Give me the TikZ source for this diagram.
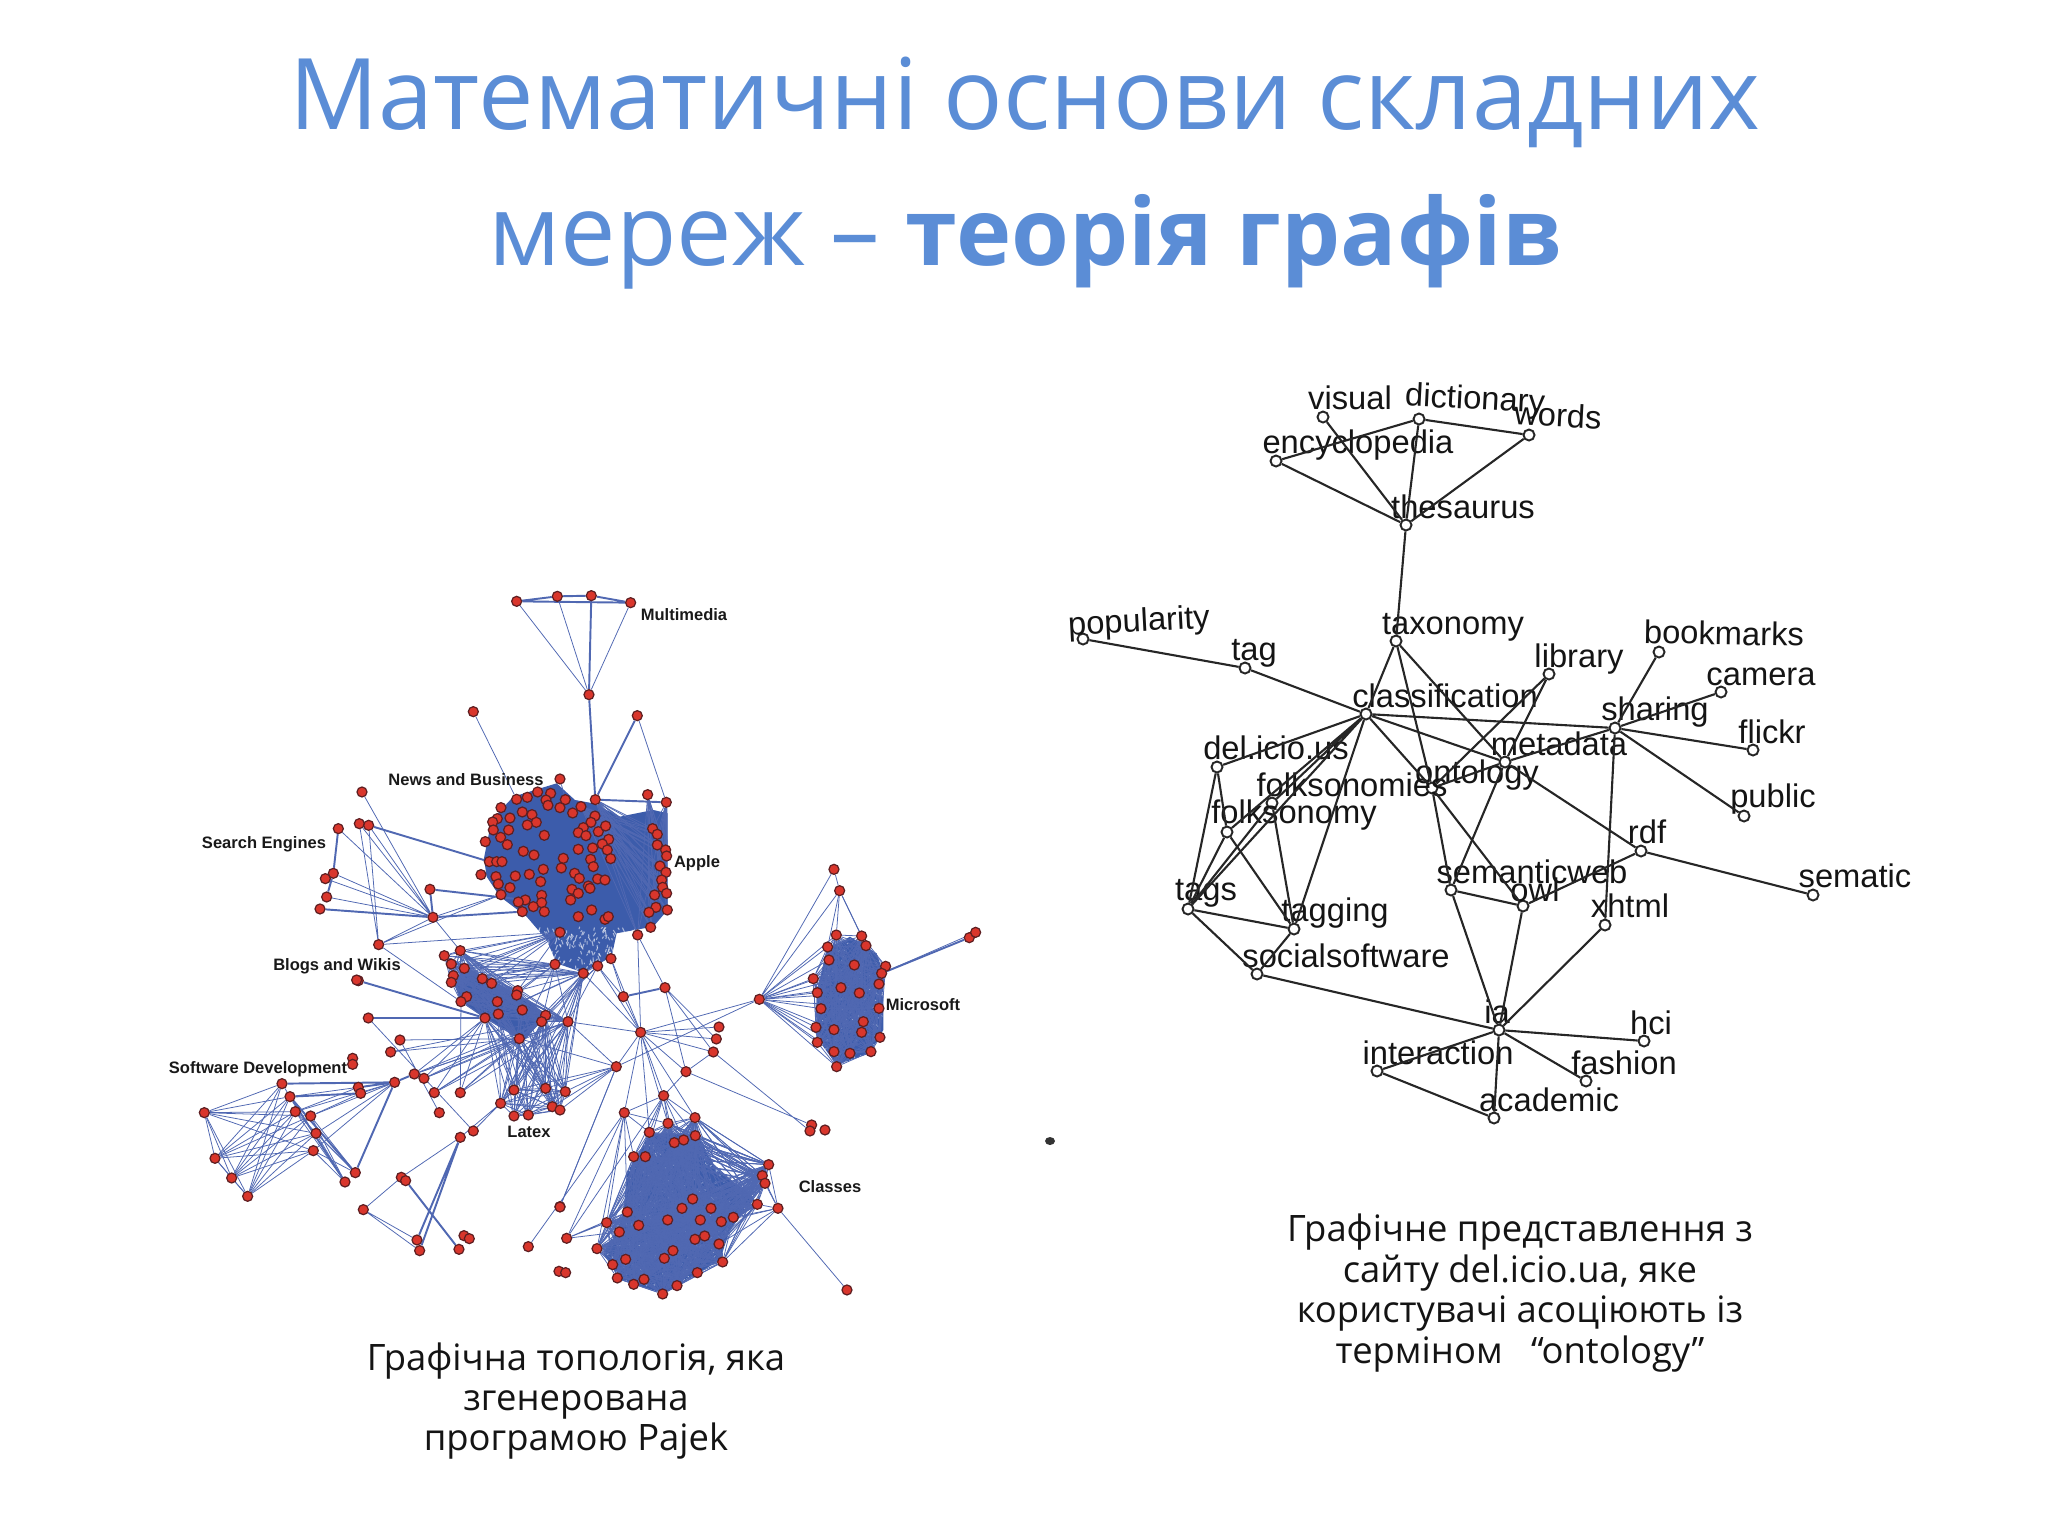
\documentclass[tikz,border=0pt]{standalone}
\usepackage{fontspec}
\setmainfont{Open Sans}
\newfontfamily\plotfont{Liberation Sans}
\usetikzlibrary{backgrounds}
\definecolor{titleblue}{HTML}{5B8DD6}
\definecolor{netblue}{HTML}{5068B2}
\definecolor{coreblue}{HTML}{3C5CAB}
\definecolor{dotred}{HTML}{D9362C}
\definecolor{dotedge}{HTML}{5E1F22}
\tikzset{
	termnode/.style={circle,draw=black!85,fill=white,line width=.55pt,inner sep=0pt,minimum size=.11cm},
	termlabel/.style={font=\plotfont\fontsize{9.3pt}{11pt}\selectfont,text=black!92,inner sep=0pt},
	termline/.style={draw=black!85,line width=.6pt},
	hostdot/.style={circle,draw=dotedge,fill=dotred,line width=.35pt,inner sep=0pt,minimum size=.1cm},
	netline/.style={draw=netblue,line width=.22pt},
	netthick/.style={draw=netblue,line width=.55pt},
	clusterfill/.style={fill=coreblue,draw=none},
	speckle/.style={draw=white,opacity=.55,line width=.3pt},
	clusterlabel/.style={font=\plotfont\bfseries\fontsize{4.7pt}{6pt}\selectfont,text=black!90,inner sep=0pt},
	caption/.style={align=center,font=\fontsize{10.35pt}{11.5pt}\selectfont,text=black!92,inner sep=0pt},
	cropa/.style={shift={(300,580)},scale=.3333},
	cropb/.style={shift={(160,940)},scale=.3333},
	cropc/.style={shift={(540,840)},scale=.3333}
}
\newcommand{\meshnet}[2]{\foreach \i in {1,...,#2}{\foreach \j in {1,...,#2}{\ifnum\i<\j \draw[netline] (#1\i) -- (#1\j);\fi}}}
\begin{document}
\begin{tikzpicture}[x=.01cm,y=-.01cm]
	\useasboundingbox (0,0) rectangle (2048,1536);
	\node[font=\fontsize{28.1pt}{30pt}\selectfont,text=titleblue,inner sep=0pt,anchor=base] (titleone) at (1025,129) {Математичні основи складних};
	\node[font=\fontsize{28.1pt}{30pt}\selectfont,text=titleblue,inner sep=0pt,anchor=base] (titletwo) at (1025,265) {мереж -- \textbf{\fontsize{26.6pt}{30pt}\selectfont теорія графів}};
	\node[caption] (capleft) at (576,1401) {Графічна топологія, яка\\згенерована\\програмою Pajek};
	\node[caption] (capright) at (1520,1293) {Графічне представлення з\\сайту del.icio.ua, яке\\користувачі асоціюють із\\терміном~~~“ontology”};
	\fill[black!80] (1050,1141) ellipse (5 and 4);
	% term graph
	\node[termnode] (visual) at (1323,417) {};
	\node[termnode] (dictionary) at (1419,419) {};
	\node[termnode] (words) at (1529,435) {};
	\node[termnode] (encyclopedia) at (1276,461) {};
	\node[termnode] (thesaurus) at (1406,525) {};
	\node[termnode] (taxonomy) at (1396,641) {};
	\node[termnode] (popularity) at (1083,639) {};
	\node[termnode] (tag) at (1245,668) {};
	\node[termnode] (classification) at (1366,714) {};
	\node[termnode] (library) at (1549,674) {};
	\node[termnode] (bookmarks) at (1659,652) {};
	\node[termnode] (camera) at (1721,692) {};
	\node[termnode] (sharing) at (1615,728) {};
	\node[termnode] (flickr) at (1753,750) {};
	\node[termnode] (public) at (1744,816) {};
	\node[termnode] (metadata) at (1505,762) {};
	\node[termnode] (rdf) at (1641,851) {};
	\node[termnode] (sematic) at (1813,895) {};
	\node[termnode] (owl) at (1523,906) {};
	\node[termnode] (xhtml) at (1605,925) {};
	\node[termnode] (delicious) at (1217,767) {};
	\node[termnode] (folksonomies) at (1272,803) {};
	\node[termnode] (folksonomy) at (1227,832) {};
	\node[termnode] (ontology) at (1432,788) {};
	\node[termnode] (tags) at (1188,909) {};
	\node[termnode] (tagging) at (1294,929) {};
	\node[termnode] (socialsoftware) at (1257,974) {};
	\node[termnode] (semanticweb) at (1451,890) {};
	\node[termnode] (ia) at (1499,1030) {};
	\node[termnode] (interaction) at (1377,1071) {};
	\node[termnode] (academic) at (1494,1118) {};
	\node[termnode] (fashion) at (1586,1081) {};
	\node[termnode] (hci) at (1644,1041) {};
	\node[termlabel] (visualtext) at (1350,398) {visual};
	\node[termlabel,rotate=-3] (dictionarytext) at (1475,401) {dictionary};
	\node[termlabel,rotate=-3] (wordstext) at (1558,415) {words};
	\node[termlabel] (encyclopediatext) at (1358,445) {encyclopedia};
	\node[termlabel] (thesaurustext) at (1463,507) {thesaurus};
	\node[termlabel,rotate=3] (popularitytext) at (1139,623) {popularity};
	\node[termlabel] (tagtext) at (1254,653) {tag};
	\node[termlabel] (taxonomytext) at (1453,627) {taxonomy};
	\node[termlabel] (classificationtext) at (1445,696) {classification};
	\node[termlabel] (librarytext) at (1579,659) {library};
	\node[termlabel,rotate=-1] (bookmarkstext) at (1724,633) {bookmarks};
	\node[termlabel] (cameratext) at (1761,677) {camera};
	\node[termlabel] (sharingtext) at (1655,712) {sharing};
	\node[termlabel] (flickrtext) at (1772,732) {flickr};
	\node[termlabel] (publictext) at (1773,799) {public};
	\node[termlabel] (metadatatext) at (1559,744) {metadata};
	\node[termlabel] (rdftext) at (1647,832) {rdf};
	\node[termlabel] (sematictext) at (1855,876) {sematic};
	\node[termlabel] (xhtmltext) at (1630,906) {xhtml};
	\node[termlabel] (owltext) at (1535,890) {owl};
	\node[termlabel] (semanticwebtext) at (1532,872) {semanticweb};
	\node[termlabel] (delicioustext) at (1276,748) {del.icio.us};
	\node[termlabel] (folksonomiestext) at (1352,785) {folksonomies};
	\node[termlabel] (folksonomytext) at (1294,815) {folksonomy};
	\node[termlabel] (ontologytext) at (1477,775) {ontology};
	\node[termlabel] (tagstext) at (1206,893) {tags};
	\node[termlabel] (taggingtext) at (1335,913) {tagging};
	\node[termlabel] (socialsoftwaretext) at (1346,956) {socialsoftware};
	\node[termlabel] (iatext) at (1497,1012) {ia};
	\node[termlabel] (interactiontext) at (1438,1053) {interaction};
	\node[termlabel] (hcitext) at (1651,1023) {hci};
	\node[termlabel] (fashiontext) at (1624,1063) {fashion};
	\node[termlabel] (academictext) at (1549,1100) {academic};
	\draw[termline] (visual) -- (thesaurus) (dictionary) -- (thesaurus) (dictionary) -- (words) (dictionary) -- (encyclopedia);
	\draw[termline] (encyclopedia) -- (thesaurus) (words) -- (thesaurus) (thesaurus) -- (taxonomy) (popularity) -- (tag);
	\draw[termline] (tag) -- (classification) (taxonomy) -- (classification) (taxonomy) -- (ontology) (taxonomy) -- (metadata);
	\draw[termline] (classification) -- (sharing) (classification) -- (metadata) (classification) -- (ontology) (classification) -- (delicious);
	\draw[termline] (classification) -- (folksonomies) (classification) -- (folksonomy) (classification) -- (tags) (classification) -- (tagging);
	\draw[termline] (library) -- (ontology) (library) -- (metadata) (bookmarks) -- (sharing) (camera) -- (sharing);
	\draw[termline] (flickr) -- (sharing) (public) -- (sharing) (metadata) -- (sharing) (sharing) -- (xhtml);
	\draw[termline] (metadata) -- (rdf) (rdf) -- (owl) (rdf) -- (sematic) (metadata) -- (semanticweb);
	\draw[termline] (ontology) -- (metadata) (ontology) -- (semanticweb) (ontology) -- (owl) (semanticweb) -- (owl);
	\draw[termline] (semanticweb) -- (ia) (owl) -- (ia) (xhtml) -- (ia) (ia) -- (socialsoftware);
	\draw[termline] (ia) -- (interaction) (ia) -- (academic) (ia) -- (fashion) (ia) -- (hci) (interaction) -- (academic);
	\draw[termline] (delicious) -- (tags) (delicious) -- (folksonomy) (folksonomies) -- (tags) (folksonomies) -- (tagging);
	\draw[termline] (folksonomy) -- (tags) (folksonomy) -- (tagging) (tags) -- (tagging) (tags) -- (socialsoftware) (tagging) -- (socialsoftware);
	% host graph, upper part
	\begin{scope}[cropa]
		\node[hostdot] (mma) at (650,64) {};
		\node[hostdot] (mmb) at (772,49) {};
		\node[hostdot] (mmc) at (874,47) {};
		\node[hostdot] (mmd) at (992,68) {};
		\node[hostdot] (mmhub) at (867,344) {};
		\node[hostdot] (newsout) at (520,395) {};
		\node[hostdot] (appleout) at (1012,407) {};
		\node[hostdot] (newstop) at (780,597) {};
		\node[hostdot] (appletop) at (886,659) {};
		\node[hostdot] (appleleft) at (650,658) {};
		\node[hostdot] (applewest) at (568,845) {};
		\node[hostdot] (applewesta) at (603,944) {};
		\node[hostdot] (appleeast) at (1099,667) {};
		\node[hostdot] (appleeasta) at (1043,644) {};
		\node[hostdot] (applelow) at (780,1057) {};
		\node[hostdot] (applesa) at (765,1153) {};
		\node[hostdot] (applesb) at (850,1180) {};
		\node[hostdot] (applesc) at (893,1158) {};
		\node[hostdot] (applesd) at (933,1136) {};
		\foreach \x/\y [count=\i] in {682/652,713/636,752/640,738/660,744/676,796/659,780/683,843/680,818/699,603/683,667/696,696/704,709/727,682/735,630/714,592/716,578/726,580/750,626/750,602/772,622/794,556/785,733/766,885/708,873/727,850/743,835/758,858/767,895/755,917/738,926/778,907/792,922/810,878/804,835/808,872/838,932/836,880/860,670/814,702/825,790/835,784/864,590/845,606/845,543/884,730/868,688/883,646/888,722/905,588/890,595/912,630/923,824/880,838/895,865/918,893/897,915/900,816/928,835/940,870/925,812/960,725/946,725/968,676/960,655/966,700/980,733/995,667/995,875/990,835/1010,915/1018,925/1010}
			\node[hostdot] (apple\i) at (\x,\y) {};
		\foreach \x/\y [count=\i] in {1058/746,1072/763,1072/795,1097/810,1100/828,1080/858,1098/877,1085/900,1088/922,1064/945,1100/940,1068/982,1047/997,1102/990,1052/1042,1013/1065}
			\node[hostdot] (rim\i) at (\x,\y) {};
		\node[hostdot] (srcha) at (186,636) {};
		\node[hostdot] (srchb) at (178,731) {};
		\node[hostdot] (srchc) at (206,736) {};
		\node[hostdot] (srchd) at (115,746) {};
		\node[hostdot] (srche) at (100,880) {};
		\node[hostdot] (srchf) at (76,896) {};
		\node[hostdot] (srchg) at (80,951) {};
		\node[hostdot] (srchh) at (60,987) {};
		\node[hostdot] (srchi) at (390,928) {};
		\node[hostdot] (srchhub) at (399,1012) {};
		\node[hostdot] (srchlow) at (236,1094) {};
	\end{scope}
	% host graph, lower left part
	\begin{scope}[cropb]
		\foreach \x/\y [count=\i] in {901/32,853/47,874/72,913/85,880/107,874/127,967/116,995/130,1073/152,1070/165,920/170,903/185,1012/185,1087/210,1015/222,975/234,1157/226,1145/245,1224/245,1078/296}
			\node[hostdot] (blog\i) at (\x,\y) {};
		\foreach \x/\y [count=\i] in {1062/450,1157/445,1216/455,1022/490,1062/528,1105/525,1177/500,1200/510}
			\node[hostdot] (latex\i) at (\x,\y) {};
		\foreach \x/\y [count=\i] in {133/518,165/655,215/714,263/769}
			\node[hostdot] (softl\i) at (\x,\y) {};
		\foreach \x/\y [count=\i] in {366/431,390/470,406/515,452/528,468/580,460/632}
			\node[hostdot] (softr\i) at (\x,\y) {};
		\node[hostdot] (softlowa) at (586,698) {};
		\node[hostdot] (softlowb) at (555,726) {};
		\node[hostdot] (softmida) at (595,442) {};
		\node[hostdot] (softmidb) at (602,460) {};
		\node[hostdot] (softhub) at (704,427) {};
		\node[hostdot] (wikia) at (595,122) {};
		\node[hostdot] (wikiaa) at (590,120) {};
		\node[hostdot] (wikib) at (625,234) {};
		\node[hostdot] (wikic) at (720,300) {};
		\node[hostdot] (wikid) at (692,336) {};
		\node[hostdot] (loosea) at (578,355) {};
		\node[hostdot] (looseb) at (578,373) {};
		\node[hostdot] (linka) at (763,402) {};
		\node[hostdot] (linkb) at (792,415) {};
		\node[hostdot] (linkc) at (823,458) {};
		\node[hostdot] (linkd) at (901,458) {};
		\node[hostdot] (linke) at (838,518) {};
		\node[hostdot] (linkf) at (940,573) {};
		\node[hostdot] (linkg) at (901,592) {};
		\node[hostdot] (lowa) at (724,712) {};
		\node[hostdot] (lowb) at (737,722) {};
		\node[hostdot] (lowc) at (610,809) {};
		\node[hostdot] (lowd) at (771,900) {};
		\node[hostdot] (lowe) at (779,932) {};
		\node[hostdot] (lowf) at (897,928) {};
		\node[hostdot] (lowg) at (912,887) {};
		\node[hostdot] (lowh) at (928,896) {};
		\node[hostdot] (latexfan) at (1369,380) {};
		\node[hostdot] (midlow) at (1200,800) {};
		\node[hostdot] (midlower) at (1105,920) {};
		\node[hostdot] (loosec) at (1197,994) {};
		\node[hostdot] (loosed) at (1217,998) {};
	\end{scope}
	% host graph, right part
	\begin{scope}[cropc]
		\foreach \x/\y [count=\i] in {889/285,965/288,978/317,863/321,867/360,943/375,1037/379,1025/400,1017/432,820/416,903/443,958/459,832/458,843/506,1017/505,970/545,828/562,882/569,965/577,1020/592,832/607,882/635,930/640,993/635,890/680}
			\node[hostdot] (ms\i) at (\x,\y) {};
		\node[hostdot] (mstopa) at (882,88) {};
		\node[hostdot] (mstopb) at (899,152) {};
		\node[hostdot] (msfan) at (658,478) {};
		\node[hostdot] (msouta) at (1288,293) {};
		\node[hostdot] (msoutb) at (1307,277) {};
		\node[hostdot] (hubup) at (250,470) {};
		\node[hostdot] (hubupr) at (375,443) {};
		\node[hostdot] (cenhub) at (302,577) {};
		\node[hostdot] (huba) at (537,561) {};
		\node[hostdot] (hubb) at (529,597) {};
		\node[hostdot] (hubc) at (520,636) {};
		\node[hostdot] (hubd) at (438,695) {};
		\node[hostdot] (hube) at (371,767) {};
		\node[hostdot] (hubf) at (253,818) {};
		\node[hostdot] (fara) at (815,855) {};
		\node[hostdot] (farb) at (810,873) {};
		\node[hostdot] (farc) at (855,870) {};
		\foreach \x/\y [count=\i] in {465/833,384/850,328/877,466/887,403/908,431/900,281/950,316/950,686/974,667/1007,675/1030,652/1093,458/1077,426/1105,513/1105,580/1132,544/1145,481/1140,383/1140,296/1156,262/1116,200/1148,238/1176,494/1188,465/1198,537/1212,399/1232,373/1255,257/1258,171/1226,548/1266,472/1298,218/1274,232/1314,312/1318,281/1333,411/1337,368/1362}
			\node[hostdot] (cls\i) at (\x,\y) {};
		\node[hostdot] (clsout) at (714,1105) {};
		\node[hostdot] (clsfar) at (921,1350) {};
		\node[hostdot] (clsfan) at (80,1195) {};
		\node[hostdot] (clsbelow) at (60,1101) {};
	\end{scope}
	\node[clusterlabel] (multimediatext) at (684,615) {Multimedia};
	\node[clusterlabel] (newstext) at (466,780) {News and Business};
	\node[clusterlabel] (appletext) at (697,863) {Apple};
	\node[clusterlabel] (searchtext) at (264,844) {Search Engines};
	\node[clusterlabel] (blogstext) at (337,966) {Blogs and Wikis};
	\node[clusterlabel] (softwaretext) at (258,1069) {Software Development};
	\node[clusterlabel] (latextext) at (529,1132) {Latex};
	\node[clusterlabel] (microsofttext) at (923,1005) {Microsoft};
	\node[clusterlabel] (classestext) at (830,1187) {Classes};
	\begin{pgfonlayer}{background}
		% solid parts of the clusters
		\begin{scope}[cropa]
			\fill[clusterfill] (552,835) -- (575,720) -- (640,650) -- (770,610) -- (825,660) -- (880,670) -- (960,710) -- (1060,690) -- (1103,700) -- (1103,990) -- (1060,1040) -- (950,1060) -- (935,1130) -- (850,1178) -- (770,1150) -- (740,1080) -- (680,1010) -- (600,950) -- (560,890) -- cycle;
			\begin{scope}
				\clip (680,1020) rectangle (1060,1180);
				\pgfmathsetseed{11}
				\foreach \k in {1,...,230}
					\draw[speckle] ({680+380*rnd},{1040+140*rnd}) -- ++({-8+16*rnd},{4+12*rnd});
			\end{scope}
		\end{scope}
		\begin{scope}[cropb]
			\fill[clusterfill] (885,130) -- (910,80) -- (1080,165) -- (1160,225) -- (1090,305) -- (1040,270) -- (975,235) -- (900,180) -- cycle;
		\end{scope}
		\begin{scope}[cropc]
			\fill[clusterfill] (830,460) -- (860,330) -- (930,290) -- (1010,340) -- (1030,400) -- (1030,570) -- (990,640) -- (890,675) -- (850,620) -- (830,560) -- cycle;
			\fill[clusterfill] (260,1000) -- (330,880) -- (470,880) -- (530,990) -- (600,1040) -- (640,1080) -- (570,1170) -- (540,1260) -- (410,1340) -- (370,1360) -- (240,1320) -- (190,1240) -- (250,1130) -- cycle;
			\begin{scope}
				\clip (830,460) -- (860,330) -- (930,290) -- (1010,340) -- (1030,400) -- (1030,570) -- (990,640) -- (890,675) -- (850,620) -- (830,560) -- cycle;
				\pgfmathsetseed{5}
				\foreach \k in {1,...,260}
					\draw[speckle] ({830+200*rnd},{290+385*rnd}) -- ++({-6+12*rnd},{-6+12*rnd});
			\end{scope}
			\begin{scope}
				\clip (260,1000) -- (330,880) -- (470,880) -- (530,990) -- (600,1040) -- (640,1080) -- (570,1170) -- (540,1260) -- (410,1340) -- (370,1360) -- (240,1320) -- (190,1240) -- (250,1130) -- cycle;
				\pgfmathsetseed{9}
				\foreach \k in {1,...,750}
					\draw[speckle] ({190+450*rnd},{880+480*rnd}) -- ++({-8+16*rnd},{-8+16*rnd});
			\end{scope}
		\end{scope}
		% cluster meshes
		\meshnet{blog}{20}
		\meshnet{latex}{8}
		\meshnet{ms}{25}
		\meshnet{cls}{38}
		\meshnet{softl}{4}
		\foreach \a in {1,...,8}
			\foreach \b in {14,...,20}
				\draw[netline] (latex\a) -- (blog\b);
		\foreach \a in {1,...,4}
			\foreach \b in {1,...,6}
				\draw[netline] (softl\a) -- (softr\b);
		\foreach \a in {1,...,16}
			\foreach \b in {appletop,appleeasta,appleeast,apple8,apple24}
				\draw[netline] (rim\a) -- (\b);
		\foreach \b in {1,...,9}
			\foreach \a in {applelow,applesa,applesb}
				\draw[netline] (\a) -- (blog\b);
		\foreach \b in {16,18,19,20}
			\foreach \a in {applesa,applesb,applesc}
				\draw[netline] (\a) -- (blog\b);
		\foreach \b in {1,...,8}
			\draw[netline] (applesb) -- (latex\b);
		% single links, upper part
		\draw[netthick] (mma) -- (mmb) -- (mmc) -- (mmd) (mma) -- (mmd);
		\draw[netline] (mma) -- (mmhub) (mmb) -- (mmhub) (mmd) -- (mmhub);
		\draw[netthick] (mmc) -- (mmhub) (mmhub) -- (appletop) (appleeast) -- (rim5) (appletop) -- (appleeast);
		\draw[netline] (newsout) -- (appleleft) (newstop) -- (apple6);
		\draw[netthick] (appleout) -- (appletop);
		\draw[netline] (appleout) -- (appleeast);
		\draw[netthick] (srchc) -- (applewest);
		\draw[netline] (srcha) -- (srchhub) (srchb) -- (srchhub) (srchc) -- (srchhub) (srchd) -- (srchhub);
		\draw[netline] (srche) -- (srchhub) (srchf) -- (srchhub) (srchg) -- (srchhub) (srchh) -- (srchhub);
		\draw[netthick] (srchd) -- (srche) (srche) -- (srchf) (srche) -- (srchg);
		\draw[netthick] (srchh) -- (srchhub) (srchi) -- (srchhub) (srchi) -- (apple64) (srchhub) -- (apple68);
		\draw[netline] (srchlow) -- (srchb) (srchlow) -- (srchc) (srchlow) -- (srchhub) (srchlow) -- (applewesta) (srchlow) -- (applelow) (srchlow) -- (blog12);
		\draw[netline] (srchhub) -- (applewesta) (srchhub) -- (blog1);
		% single links, lower left part
		\draw[netthick] (wikia) -- (blog16) (wikib) -- (blog16);
		\draw[netline] (wikib) -- (linkf) (wikic) -- (blog20) (wikic) -- (linke) (wikid) -- (blog20) (wikid) -- (blog18);
		\draw[netthick] (softhub) -- (linka);
		\foreach \b in {16,18,20,19}{
			\draw[netline] (linka) -- (blog\b) (linkb) -- (blog\b) (linkc) -- (blog\b) (linkd) -- (blog\b);
		}
		\draw[netline] (blog12) -- (linkd) (linkg) -- (latex4) (linkf) -- (latex1);
		\draw[netthick] (softhub) -- (softr1) (softhub) -- (softmida) (softhub) -- (softlowa);
		\foreach \a in {softr2,softr3,softr4,softr5,softr6,softmidb}
			\draw[netline] (softhub) -- (\a);
		\foreach \a in {softr2,softr3,softr4,softr5,softr6}
			\draw[netline] (softlowa) -- (\a) (softlowb) -- (\a);
		\draw[netthick] (softr2) -- (softlowb) (softr2) -- (softlowa) (softr2) -- (softmidb);
		\draw[netline] (softr1) -- (softr2) (softr3) -- (softmida) (softr4) -- (softmidb);
		\draw[netline] (linkg) -- (lowa) (lowa) -- (lowc) (lowc) -- (lowd) (lowc) -- (lowe) (lowb) -- (lowf);
		\draw[netthick] (linkg) -- (lowd) (linkg) -- (lowe) (lowb) -- (lowf);
		\foreach \a in {1,2,3,7,8}
			\draw[netline] (latexfan) -- (latex\a);
		\draw[netline] (latexfan) -- (blog19) (latexfan) -- (blog20) (latexfan) -- (cenhub) (latexfan) -- (midlow) (blog19) -- (cenhub) (midlower) -- (hubf);
		% single links, right part
		\draw[netthick] (hubup) -- (hubupr);
		\foreach \a in {hubup,huba,hubb,hubc,hubd,hube,hubf,msfan,applesd,applesc,applesb,rim16,cls1,cls2,cls3}
			\draw[netline] (cenhub) -- (\a);
		\draw[netline] (hubupr) -- (rim16) (hubupr) -- (hubd) (hubupr) -- (hubc) (hubupr) -- (hubb) (hubup) -- (applesd) (hubup) -- (applesc);
		\draw[netline] (latexfan) -- (msfan) (hubd) -- (hubc) (hubd) -- (fara) (hubc) -- (farb) (hubf) -- (hube) (hube) -- (hubd);
		\foreach \a in {1,2,3,4,5,6,7,8}
			\draw[netline] (hube) -- (cls\a);
		\foreach \a in {2,3,7,21,22,30}
			\draw[netline] (hubf) -- (cls\a);
		\draw[netline] (hubf) -- (clsfan);
		\draw[netline] (clsfan) -- (cls21) (clsfan) -- (cls22) (clsfan) -- (cls23) (clsfan) -- (hube) (latexfan) -- (clsbelow);
		\foreach \a in {1,4,5,6,7,10,11,12,13,14,15,17,18,21,22,23,25}
			\draw[netline] (msfan) -- (ms\a);
		\draw[netline] (msfan) -- (mstopa) (msfan) -- (mstopb) (mstopa) -- (mstopb);
		\foreach \a in {1,2,3,4}
			\draw[netline] (mstopb) -- (ms\a);
		\draw[netthick] (ms8) -- (msouta);
		\draw[netline] (ms8) -- (msoutb) (msouta) -- (msoutb);
		\foreach \a in {1,2}
			\foreach \b in {9,10,11,12}
				\draw[netline] (cls\a) -- (cls\b);
		\foreach \a in {9,10,11,12,16,17,26,31}
			\draw[netline] (clsout) -- (cls\a);
		\foreach \a in {4,5,6,8}
			\foreach \b in {9,10,11,12,16}
				\draw[netline] (cls\a) -- (cls\b);
		\draw[netline] (clsout) -- (clsfar);
	\end{pgfonlayer}
\end{tikzpicture}
\end{document}
